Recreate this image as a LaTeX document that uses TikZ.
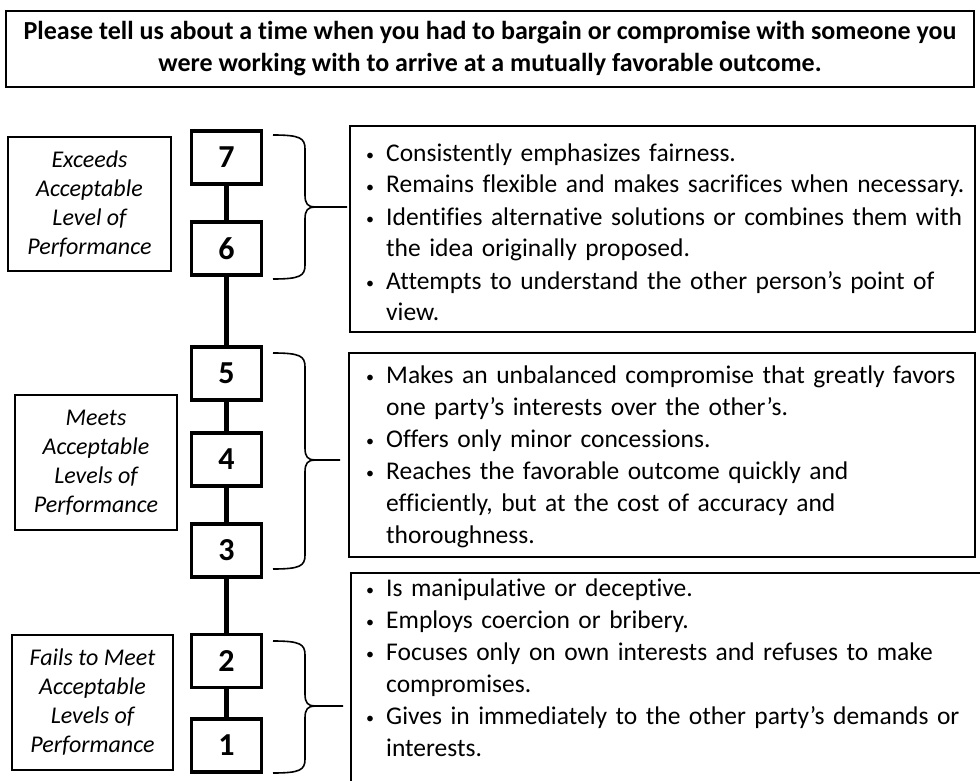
\documentclass[tikz,border=0pt]{standalone}
\usepackage{fontspec}
\setmainfont{Carlito}[Ligatures={NoCommon}]
\newcommand\bul{\makebox[22pt][l]{\hspace{2pt}\raisebox{0.5pt}{\fontsize{16}{16}\selectfont\textbullet}}}
\newcommand\cont{\hspace*{22pt}}
% curly brace: top y, bottom y, middle y, tip x
\newcommand\drawbrace[4]{%
  \draw[brace] (273,#1) .. controls (300,#1) and (305,#1+3) .. (305,#1+14)
    -- (305,#3-12) .. controls (305,#3-3) and (308,#3) .. (315,#3) -- (#4,#3)
    (315,#3) .. controls (308,#3) and (305,#3+3) .. (305,#3+12)
    -- (305,#2-14) .. controls (305,#2-3) and (300,#2) .. (273,#2);}
\begin{document}
\begin{tikzpicture}[x=1pt,y=-1pt,
  hdr/.style={draw, line width=1.8pt, minimum width=968pt, minimum height=76pt,
    align=center, inner sep=0, font=\bfseries\fontsize{26}{32}\selectfont},
  lvl/.style={draw, line width=1.2pt, align=center, inner sep=0,
    font=\itshape\fontsize{24}{29}\selectfont},
  score/.style={draw, line width=3.5pt, fill=white, minimum width=70pt,
    minimum height=53pt, inner sep=0, font=\bfseries\fontsize{32}{32}\selectfont},
  panel/.style={draw, line width=1.6pt, inner sep=0},
  items/.style={anchor=base west, inner sep=0, text width=615pt, align=left,
    font=\fontsize{25.5}{32}\selectfont},
  spine/.style={line width=5pt},
  brace/.style={line width=1.6pt}]
\useasboundingbox (0,0) rectangle (980,781);
\clip (0,0) rectangle (980,781);

% question header
\node[hdr] (q) at (490,49) {Please tell us about a time when you had to bargain or compromise with someone you\\were working with to arrive at a mutually favorable outcome.};

% level labels
\node[lvl, minimum width=163pt, minimum height=134pt] (lhi) at (89.5,204) {Exceeds\\Acceptable\\Level of\\Performance};
\node[lvl, minimum width=162pt, minimum height=135pt] (lmid) at (96,462.5) {Meets\\Acceptable\\Levels of\\Performance};
\node[lvl, minimum width=161pt, minimum height=135pt] (llo) at (92.5,702.5) {Fails to Meet\\Acceptable\\Levels of\\Performance};

% rating scale
\node[score] (s7) at (226.5,157.5) {7};
\node[score] (s6) at (226.5,248.5) {6};
\node[score] (s5) at (226.5,373.5) {5};
\node[score] (s4) at (226.5,459.5) {4};
\node[score] (s3) at (226.5,550.5) {3};
\node[score] (s2) at (226.5,661) {2};
\node[score] (s1) at (226.5,745.5) {1};
\draw[spine] (s7.south) -- (s6.north);
\draw[spine] (s6.south) -- (s5.north);
\draw[spine] (s5.south) -- (s4.north);
\draw[spine] (s4.south) -- (s3.north);
\draw[spine] (s3.south) -- (s2.north);
\draw[spine] (s2.south) -- (s1.north);

% braces
\drawbrace{135}{279}{207}{347}
\drawbrace{353}{569}{460}{340}
\drawbrace{641}{773}{706}{343}

% behaviour panels
\node[panel, minimum width=625pt, minimum height=206pt] (pa) at (662.5,229) {};
\node[panel, minimum width=626pt, minimum height=204pt] (pb) at (662,455) {};
\draw[line width=1.6pt] (351,790) -- (351,573) coordinate (pc) -- (990,573);

\node[items] (ta) at (364,161) {\bul Consistently emphasizes fairness.\\
\bul Remains flexible and makes sacrifices when necessary.\\
\bul Identifies alternative solutions or combines them with\\
\cont the idea originally proposed.\\
\bul Attempts to understand the other person’s point of\\
\cont view.};

\node[items] (tb) at (364,383) {\bul Makes an unbalanced compromise that greatly favors\\
\cont one party’s interests over the other’s.\\
\bul Offers only minor concessions.\\
\bul Reaches the favorable outcome quickly and\\
\cont efficiently, but at the cost of accuracy and\\
\cont thoroughness.};

\node[items] (tc) at (364,596) {\bul Is manipulative or deceptive.\\
\bul Employs coercion or bribery.\\
\bul Focuses only on own interests and refuses to make\\
\cont compromises.\\
\bul Gives in immediately to the other party’s demands or\\
\cont interests.};
\end{tikzpicture}
\end{document}
